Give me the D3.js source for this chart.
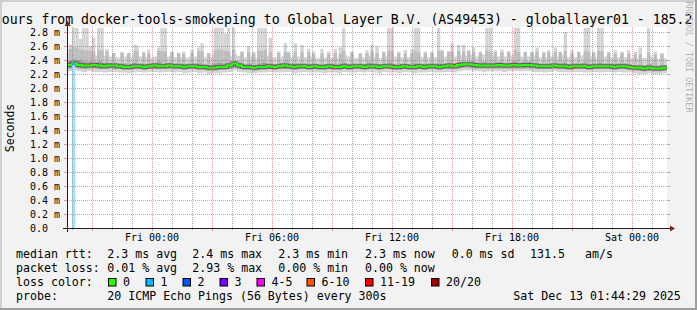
<!DOCTYPE html>
<html><head><meta charset="utf-8">
<script src="https://cdn.jsdelivr.net/npm/d3@7"></script>
<style>
html,body{margin:0;padding:0;background:#f2f2f2;}
svg{display:block;}
text{font-family:"DejaVu Sans Mono",monospace;fill:#000;}
</style></head><body>
<svg id="c" width="697" height="310"></svg>
<script>
// ---------------- data ----------------
const titleText = "ours from docker-tools-smokeping to Global Layer B.V. (AS49453) - globallayer01 - 185.2";
const yLabel = "Seconds";
const watermark = "RRDTOOL / TOBI OETIKER";
const yTickValues = [0.0,0.2,0.4,0.6,0.8,1.0,1.2,1.4,1.6,1.8,2.0,2.2,2.4,2.6,2.8];
const yTickLabels = ["0.0  ","0.2 m","0.4 m","0.6 m","0.8 m","1.0 m","1.2 m","1.4 m","1.6 m","1.8 m","2.0 m","2.2 m","2.4 m","2.6 m","2.8 m"];
const xTickLabels = ["Fri 00:00","Fri 06:00","Fri 12:00","Fri 18:00","Sat 00:00"];
const startTime = new Date(2025,11,11,19,45);
const endTime   = new Date(2025,11,13,1,45);
const binMinutes = 15;
// median rtt (ms) per 15-minute bin
const median = [
2.33,2.35,2.33,2.32,2.32,2.33,2.32,2.31,2.32,2.32,
2.31,2.30,2.30,2.31,2.31,2.30,2.31,2.32,2.31,2.31,
2.32,2.31,2.31,2.30,2.31,2.31,2.30,2.30,2.29,2.29,
2.30,2.30,2.32,2.35,2.32,2.30,2.30,2.29,2.30,2.30,
2.31,2.30,2.31,2.32,2.31,2.30,2.31,2.31,2.30,2.31,
2.30,2.30,2.31,2.30,2.30,2.31,2.30,2.31,2.31,2.30,
2.31,2.31,2.30,2.31,2.31,2.30,2.30,2.31,2.30,2.30,
2.31,2.30,2.31,2.31,2.30,2.31,2.32,2.31,2.33,2.34,
2.34,2.33,2.32,2.32,2.32,2.32,2.33,2.32,2.32,2.33,
2.32,2.33,2.33,2.32,2.31,2.31,2.31,2.32,2.31,2.31,
2.30,2.31,2.31,2.31,2.30,2.31,2.31,2.31,2.31,2.30,
2.31,2.31,2.30,2.29,2.29,2.28,2.29,2.28,2.28,2.29];
// light outer smoke: highest ping per bin (without isolated spikes)
const smokeMax = [
2.50,2.52,2.49,2.48,2.47,2.46,2.48,2.46,2.45,2.44,
2.44,2.45,2.44,2.47,2.45,2.44,2.43,2.45,2.47,2.46,
2.45,2.44,2.44,2.43,2.44,2.45,2.46,2.44,2.44,2.48,
2.49,2.47,2.46,2.49,2.46,2.44,2.45,2.43,2.47,2.48,
2.46,2.44,2.44,2.46,2.44,2.46,2.45,2.44,2.45,2.43,
2.43,2.44,2.43,2.44,2.43,2.47,2.45,2.43,2.43,2.44,
2.46,2.44,2.43,2.45,2.47,2.45,2.44,2.43,2.44,2.47,
2.45,2.44,2.44,2.44,2.47,2.45,2.46,2.45,2.47,2.46,
2.47,2.45,2.45,2.48,2.46,2.45,2.45,2.45,2.46,2.48,
2.45,2.45,2.45,2.46,2.44,2.44,2.45,2.46,2.45,2.47,
2.44,2.44,2.45,2.47,2.45,2.44,2.47,2.45,2.44,2.43,
2.44,2.44,2.43,2.42,2.42,2.43,2.45,2.42,2.42,2.42];
// upper part of the dense smoke
const smokeHi = [
2.39,2.41,2.40,2.38,2.37,2.37,2.38,2.36,2.36,2.36,
2.35,2.35,2.34,2.36,2.35,2.34,2.35,2.36,2.37,2.35,
2.36,2.35,2.35,2.34,2.35,2.35,2.35,2.34,2.33,2.35,
2.36,2.35,2.36,2.39,2.36,2.34,2.35,2.33,2.35,2.36,
2.35,2.34,2.35,2.36,2.35,2.35,2.35,2.35,2.34,2.35,
2.34,2.34,2.35,2.34,2.34,2.36,2.34,2.35,2.35,2.34,
2.36,2.35,2.34,2.35,2.36,2.34,2.34,2.35,2.34,2.35,
2.35,2.34,2.35,2.35,2.35,2.35,2.36,2.35,2.37,2.38,
2.38,2.37,2.36,2.37,2.36,2.36,2.37,2.36,2.36,2.38,
2.36,2.37,2.37,2.36,2.35,2.35,2.35,2.36,2.35,2.36,
2.34,2.35,2.35,2.36,2.34,2.35,2.36,2.35,2.35,2.34,
2.35,2.35,2.34,2.33,2.33,2.32,2.34,2.32,2.32,2.33];
// lower part of the dense smoke
const smokeLo = [
2.28,2.29,2.28,2.27,2.28,2.28,2.27,2.27,2.28,2.27,
2.27,2.26,2.26,2.27,2.27,2.26,2.27,2.27,2.27,2.27,
2.28,2.27,2.27,2.26,2.27,2.27,2.26,2.26,2.25,2.25,
2.26,2.26,2.27,2.29,2.27,2.26,2.26,2.25,2.26,2.26,
2.27,2.26,2.27,2.27,2.27,2.26,2.27,2.27,2.26,2.27,
2.26,2.26,2.27,2.26,2.26,2.27,2.26,2.27,2.27,2.26,
2.27,2.27,2.26,2.27,2.27,2.26,2.26,2.27,2.26,2.26,
2.27,2.26,2.27,2.27,2.26,2.27,2.27,2.27,2.28,2.29,
2.29,2.28,2.28,2.28,2.28,2.28,2.28,2.28,2.28,2.28,
2.28,2.28,2.28,2.28,2.27,2.27,2.27,2.28,2.27,2.27,
2.26,2.27,2.27,2.27,2.26,2.27,2.27,2.27,2.27,2.26,
2.27,2.27,2.26,2.25,2.25,2.24,2.25,2.24,2.24,2.25];
// lowest ping per bin
const smokeMin = [
2.24,2.25,2.24,2.23,2.24,2.23,2.23,2.22,2.23,2.23,
2.22,2.22,2.21,2.22,2.23,2.22,2.23,2.23,2.22,2.23,
2.23,2.22,2.23,2.21,2.22,2.23,2.21,2.22,2.20,2.21,
2.21,2.22,2.23,2.25,2.23,2.22,2.21,2.21,2.22,2.22,
2.23,2.22,2.22,2.23,2.23,2.21,2.22,2.23,2.22,2.22,
2.22,2.21,2.22,2.22,2.21,2.23,2.22,2.22,2.23,2.22,
2.23,2.22,2.21,2.23,2.22,2.22,2.21,2.23,2.22,2.21,
2.22,2.22,2.23,2.22,2.22,2.23,2.23,2.22,2.24,2.25,
2.25,2.24,2.24,2.23,2.24,2.24,2.24,2.23,2.24,2.24,
2.24,2.24,2.24,2.23,2.23,2.22,2.23,2.24,2.23,2.23,
2.22,2.23,2.23,2.22,2.22,2.23,2.22,2.23,2.23,2.22,
2.23,2.22,2.22,2.21,2.20,2.20,2.21,2.20,2.20,2.21];
// high pings (10-minute columns): minutes after start, value (ms)
const spikeMinutes = [
  5,15,25,35,45,55,65,75,90,100,115,135,160,180,200,205,225,240,270,280,290,310,
  330,345,370,390,400,420,440,450,460,470,480,495,520,540,555,570,580,590,605,
  630,650,660,680,700,720,735,760,780,800,815,825,850,875,895,910,925,945,960,
  970,990,1010,1030,1040,1050,1070,1090,1110,1120,1140,1150,1170,1185,1200,1215,
  1235,1255,1265,1280,1300,1320,1340,1350,1370,1390,1405,1425,1440,1460,1475,
  1490,1510,1530,1550,1560,1575,1590,1600,1620,1640,1660,1680,1700,1715,1740,1760,1780];
const spikeValues = [
  2.62,2.86,2.86,2.70,2.86,2.86,2.60,2.72,2.86,2.86,2.56,2.50,2.52,2.50,2.62,2.60,2.52,2.55,2.58,2.86,2.86,2.52,
  2.50,2.52,2.55,2.58,2.64,2.50,2.86,2.86,2.86,2.78,2.86,2.86,2.52,2.60,2.52,2.86,2.86,2.86,2.72,
  2.52,2.64,2.52,2.64,2.62,2.56,2.52,2.56,2.52,2.56,2.58,2.86,2.52,2.50,2.54,2.62,2.60,2.52,2.86,
  2.86,2.52,2.54,2.56,2.86,2.86,2.52,2.52,2.86,2.54,2.52,2.64,2.62,2.62,2.54,2.58,
  2.52,2.86,2.86,2.54,2.55,2.52,2.86,2.86,2.52,2.52,2.58,2.52,2.54,2.58,2.52,
  2.80,2.54,2.52,2.86,2.86,2.52,2.86,2.86,2.52,2.54,2.52,2.54,2.52,2.58,2.86,2.52,2.50];
// loss events
const lossTimes = [new Date(2025,11,11,20,0)];
const lossValues = [2.34];
const lossCounts = [1];
// legend
const legendRows = [
  [["median rtt:",16],["2.3 ms avg",107.3],["2.4 ms max",192.3],["2.3 ms min",278.3],["2.3 ms now",365],["0.0 ms sd",451.7],["131.5",530],["am/s",585]],
  [["packet loss:",16],["0.01 % avg",107.3],["2.93 % max",192.3],["0.00 % min",278.3],["0.00 % now",365]],
  [["loss color:",16]],
  [["probe:",16],["20 ICMP Echo Pings (56 Bytes) every 300s",107.3],["Sat Dec 13 01:44:29 2025",513.3]]
];
const lossLabels = ["0","1","2","3","4-5","6-10","11-19","20/20"];
const lossColors = ["#26ff00","#00b8ff","#0059ff","#7e00ff","#ff00ff","#ff5500","#ff0000","#a10000"];
const lossBoxX = [108,145.5,182.5,219.5,256.5,306.5,365,431];

// ---------------- drawing ----------------
const W = 697, H = 310;
const svg = d3.select("#c");
const L = 67, R = 667, B = 228, T = 27;
const x = d3.scaleTime().domain([startTime,endTime]).range([L,R]);
const y = d3.scaleLinear().domain([0,(B-T)/70]).range([B,T]);

svg.append("rect").attr("width",W).attr("height",H).attr("fill","#f2f2f2");
svg.append("rect").attr("x",L).attr("y",T).attr("width",R-L).attr("height",B-T).attr("fill","#fff");

const bins = median.map((m,i)=>({
  t: new Date(+startTime + i*binMinutes*60000),
  med:m, max:smokeMax[i], hi:smokeHi[i], lo:smokeLo[i], min:smokeMin[i]}));
const last = bins[bins.length-1];
bins.push(Object.assign({},last,{t:endTime}));

const g = svg.append("g");
const area = (a,b)=>d3.area().curve(d3.curveStepAfter).x(d=>x(d.t)).y0(d=>y(d[a])).y1(d=>y(d[b]));
g.append("path").datum(bins).attr("d",area("min","max")).attr("fill","#d4d4d4");
// spikes
spikeMinutes.forEach((m,i)=>{
  const t0 = new Date(+startTime + m*60000), t1 = new Date(+t0 + 10*60000);
  const bi = Math.min(median.length-1, Math.floor(m/binMinutes));
  const v = spikeValues[i];
  g.append("rect").attr("x",x(t0)).attr("width",x(t1)-x(t0))
    .attr("y",y(v)).attr("height",y(smokeHi[bi])-y(v)).attr("fill","#d4d4d4");
  const mid = Math.min(v, smokeMax[bi]+0.06);
  g.append("rect").attr("x",x(t0)).attr("width",x(t1)-x(t0))
    .attr("y",y(mid)).attr("height",y(smokeHi[bi])-y(mid)).attr("fill","#bdbdbd");
});
g.append("path").datum(bins).attr("d",area("lo","hi")).attr("fill","#9d9d9d");
const medLine = d3.line().curve(d3.curveStepAfter).x(d=>x(d.t)).y(d=>y(d.med));
g.append("path").datum(bins).attr("d",medLine).attr("fill","none").attr("stroke","#2a2a2a").attr("stroke-opacity",0.5).attr("stroke-width",4);
g.append("path").datum(bins).attr("d",medLine).attr("fill","none").attr("stroke","#26ff00").attr("stroke-width",2);

// loss markers
lossTimes.forEach((t,i)=>{
  const x0 = x(t), x1 = x(new Date(+t+10*60000));
  g.append("rect").attr("x",x0).attr("y",y(lossValues[i])).attr("width",x1-x0).attr("height",B-y(lossValues[i]))
    .attr("fill","#a6e1fa");
  g.append("line").attr("x1",x0).attr("x2",x1).attr("y1",y(lossValues[i])).attr("y2",y(lossValues[i]))
    .attr("stroke",lossColors[lossCounts[i]]).attr("stroke-width",2);
});

// grid
const grid = svg.append("g");
const hours = d3.timeHour.range(startTime,endTime);
hours.forEach(h=>{
  const major = h.getHours()%3===0;
  const xx = Math.round(x(h))+0.5;
  const col = major?"rgba(222,79,79,0.6)":"rgba(143,143,143,0.75)";
  grid.append("line").attr("x1",xx).attr("x2",xx).attr("y1",T).attr("y2",B)
    .attr("stroke",col).attr("stroke-width",1).attr("stroke-dasharray","1,1");
  grid.append("line").attr("x1",xx).attr("x2",xx).attr("y1",B).attr("y2",B+(major?3:2)).attr("stroke",col);
});
yTickValues.forEach(v=>{
  const yy = Math.round(y(v))+0.5;
  const col = "rgba(222,79,79,0.6)";
  if(v>0) grid.append("line").attr("x1",L).attr("x2",R).attr("y1",yy).attr("y2",yy)
    .attr("stroke",col).attr("stroke-width",1).attr("stroke-dasharray","1,1");
  grid.append("line").attr("x1",L-3).attr("x2",L).attr("y1",yy).attr("y2",yy).attr("stroke",col);
  grid.append("line").attr("x1",R).attr("x2",R+3).attr("y1",yy).attr("y2",yy).attr("stroke",col);
});

// axes
const ax = svg.append("g");
ax.append("line").attr("x1",L-4).attr("x2",R+4).attr("y1",B+0.5).attr("y2",B+0.5).attr("stroke","#1f1f1f");
ax.append("line").attr("x1",L+0.5).attr("x2",L+0.5).attr("y1",B+4).attr("y2",T-4).attr("stroke","#1f1f1f");
ax.append("path").attr("d",`M${R+3},${B-2.5}L${R+8},${B+0.5}L${R+3},${B+3.5}Z`).attr("fill","#801f1f");
ax.append("path").attr("d",`M${L-2.5},${T-1}L${L+0.5},${T-6}L${L+3.5},${T-1}Z`).attr("fill","#801f1f");

// tick labels
const xLabTimes = d3.timeHour.every(6).range(startTime,endTime);
xLabTimes.forEach((t,i)=>{
  svg.append("text").attr("x",x(t)).attr("y",241).attr("text-anchor","middle")
    .attr("font-size","10px").text(xTickLabels[i]);
});
yTickValues.forEach((v,i)=>{
  svg.append("text").attr("x",30).attr("y",y(v)+3.5).attr("font-size","10px")
    .style("white-space","pre").text(yTickLabels[i]);
});
svg.append("text").attr("transform","translate(14,128) rotate(-90)").attr("text-anchor","middle")
  .attr("font-size","11.5px").text(yLabel);

// title
svg.append("text").attr("x",1.7).attr("y",23.5).attr("font-size","13.2px").text(titleText);

// watermark
svg.append("text").attr("transform","translate(685.5,57) rotate(90)").attr("text-anchor","middle")
  .attr("font-size","8.4px").style("fill","#b4b4b4").text(watermark);

// legend
const rowY = [258,272,286,299.5];
legendRows.forEach((row,r)=>{
  row.forEach(([s,xx])=>{
    svg.append("text").attr("x",xx).attr("y",rowY[r]).attr("font-size","11.6px").style("white-space","pre").text(s);
  });
});
lossLabels.forEach((lab,i)=>{
  svg.append("rect").attr("x",lossBoxX[i]+0.5).attr("y",278.5).attr("width",7.5).attr("height",7.5)
    .attr("fill",lossColors[i]).attr("stroke","#000").attr("stroke-width",1);
  svg.append("text").attr("x",lossBoxX[i]+15).attr("y",rowY[2]).attr("font-size","11.6px").text(lab);
});

// frame (3D shade)
svg.append("path").attr("d",`M0,0H${W}V2H2V${H}H0Z`).attr("fill","#cfcfcf");
svg.append("path").attr("d",`M${W},0V${H}H0V${H-2}H${W-2}V0Z`).attr("fill","#9e9e9e");
</script>
</body></html>
